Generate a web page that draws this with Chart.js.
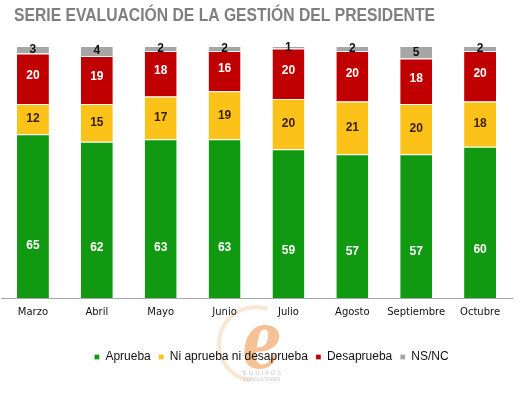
<!DOCTYPE html>
<html>
<head>
<meta charset="utf-8">
<script src="https://cdn.jsdelivr.net/npm/chart.js@4.4.0/dist/chart.umd.min.js"></script>
<style>
html,body{margin:0;padding:0;background:#fff;}
#wrap{width:525px;height:398px;position:relative;}
</style>
</head>
<body>
<div id="wrap"><canvas id="c" width="525" height="398"></canvas></div>
<script>
const months = ['Marzo','Abril','Mayo','Junio','Julio','Agosto','Septiembre','Octubre'];
const aprueba = [65,62,63,63,59,57,57,60];
const niNi = [12,15,17,19,20,21,20,18];
const desaprueba = [20,19,18,16,20,20,18,20];
const nsnc = [3,4,2,2,1,2,5,2];
const seriesNames = ['Aprueba','Ni aprueba ni desaprueba','Desaprueba','NS/NC'];
const titleText = 'SERIE EVALUACIÓN DE LA GESTIÓN DEL PRESIDENTE';

const colors = ['#119a11','#fbc21a','#c00000','#a6a6a6'];
const labelColors = ['#ffffff','#3a1c00','#ffffff','#111111'];

const watermark = {
  id:'watermark',
  beforeDraw(chart){
    const ctx = chart.ctx;
    ctx.save();
    ctx.fillStyle='#fff';
    ctx.fillRect(0,0,chart.width,chart.height);
    ctx.globalAlpha = 0.45;
    ctx.strokeStyle = '#f0c9a0';
    ctx.lineWidth = 4;
    ctx.beginPath();
    ctx.arc(256,344,37,Math.PI*0.55,Math.PI*1.6);
    ctx.stroke();
    ctx.globalAlpha = 0.7;
    ctx.fillStyle = '#f2a868';
    ctx.translate(262,368);
    ctx.scale(1,1.3);
    ctx.font = 'italic bold 62px "DejaVu Serif"';
    ctx.textAlign='center';
    ctx.textBaseline='alphabetic';
    ctx.fillText('e',0,0);
    ctx.restore();
    ctx.save();
    ctx.globalAlpha = 0.8;
    ctx.fillStyle = '#b8b8b8';
    ctx.textAlign='center';
    ctx.font = '6px "DejaVu Sans"';
    ctx.fillText('E Q U I P O S',262,373);
    ctx.font = '5px "DejaVu Sans"';
    ctx.fillText('CONSULTORES',262,380);
    ctx.restore();
  }
};

const legendShift = {
  id:'legendShift',
  afterLayout(chart){
    const lg = chart.legend;
    if(!lg) return;
    lg.left += 30;
    lg.top += 2; lg.bottom += 2;
  }
};

const titlePlugin = {
  id:'titleDraw',
  afterDraw(chart){
    const ctx = chart.ctx;
    ctx.save();
    ctx.font = 'bold 19px "Liberation Sans", Arial, sans-serif';
    ctx.fillStyle = '#7f7f7f';
    ctx.textBaseline = 'alphabetic';
    ctx.textAlign = 'left';
    const w = ctx.measureText(titleText).width;
    ctx.translate(14,21);
    ctx.scale(421/w,1);
    ctx.fillText(titleText,0,0);
    ctx.restore();
  }
};

const dataLabels = {
  id:'dataLabels',
  afterDatasetsDraw(chart){
    const ctx = chart.ctx;
    ctx.save();
    ctx.font = 'bold 12px "Liberation Sans", Arial, sans-serif';
    ctx.textAlign='center';
    ctx.textBaseline='middle';
    chart.data.datasets.forEach((ds,di)=>{
      const meta = chart.getDatasetMeta(di);
      meta.data.forEach((bar,i)=>{
        const top = Math.min(bar.y,bar.base), bot = Math.max(bar.y,bar.base);
        let y = (top+bot)/2;
        if(di===0) y = top + 0.68*(bot-top);
        if(di===2) y -= 3;
        ctx.fillStyle = labelColors[di];
        ctx.fillText(String(ds.data[i]), bar.x, y);
      });
    });
    ctx.restore();
  }
};

const datasets = [aprueba,niNi,desaprueba,nsnc].map((d,i)=>({
  label: seriesNames[i],
  data: d,
  backgroundColor: colors[i],
  borderColor: '#ffffff',
  borderWidth: {top:1},
  borderSkipped: 'bottom',
  categoryPercentage: 1,
  barPercentage: 0.5
}));

new Chart(document.getElementById('c'),{
  type:'bar',
  data:{labels:months,datasets},
  options:{
    responsive:false,
    animation:false,
    layout:{padding:{left:1,right:13,top:46,bottom:27}},
    plugins:{
      title:{display:false},
      legend:{position:'bottom',
        labels:{usePointStyle:true,pointStyle:'rect',boxWidth:5,boxHeight:5,pointStyleWidth:5,
          color:'#111',font:{family:'"Liberation Sans", Arial',size:12},padding:8}},
      tooltip:{enabled:false}
    },
    scales:{
      x:{stacked:true,grid:{display:false,drawTicks:false},border:{color:'#a6a6a6'},
        ticks:{color:'#111',font:{family:'"DejaVu Sans"',size:10},padding:8,maxRotation:0},
        afterFit(scale){ scale.height += 15; }},
      y:{stacked:true,display:false,min:0,max:100}
    }
  },
  plugins:[watermark,legendShift,dataLabels,titlePlugin]
});
</script>
</body>
</html>
